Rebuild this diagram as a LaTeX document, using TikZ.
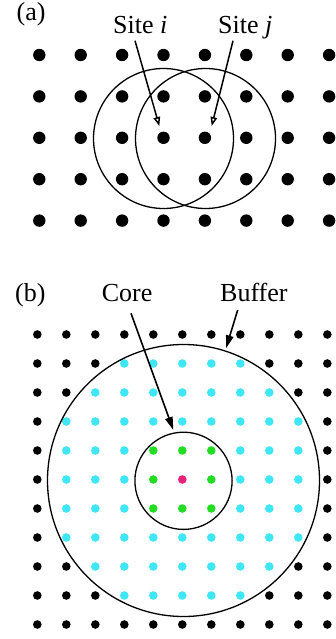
\documentclass[tikz,border=0pt]{standalone}
\usepackage{fontspec}
\setmainfont{Liberation Serif}
\usetikzlibrary{arrows.meta}
\definecolor{dotcyan}{HTML}{3FE6F5}
\definecolor{dotgreen}{HTML}{22DD22}
\definecolor{dotpink}{HTML}{E8207A}
\begin{document}
\begin{tikzpicture}[x=1pt,y=-1pt,
  lbl/.style={font=\fontsize{26}{30}\selectfont, inner sep=0pt, anchor=base west},
  ring/.style={line width=1.3pt},
  ptropen/.style={line width=1.5pt, -{Triangle[open,length=9pt,width=6.5pt]}},
  ptrfill/.style={line width=1.6pt, -{Triangle[length=13pt,width=7.5pt]}}]
\useasboundingbox (0,0) rectangle (335,639);
% ---------- panel (a)
\foreach \c in {0,...,7}{\foreach \r in {0,...,4}{
  \fill ({39.3+41.4*\c},{55+41.4*\r}) circle[radius=6.2pt];
}}
\draw[ring] (163.5,138.5) circle[radius=70pt];
\draw[ring] (205.5,138.5) circle[radius=70pt];
\node[lbl] (la) at (16.5,21) {(a)};
\node[lbl] (si) at (113,33.3) {Site \textit{i}};
\node[lbl] (sj) at (218,33.3) {Site \textit{j}};
\coordinate (si0) at (135,40.7);
\coordinate (si1) at (159.3,126);
\coordinate (sj0) at (233,40.7);
\coordinate (sj1) at (211.7,126);
\draw[ptropen] (si0) -- (si1);
\draw[ptropen] (sj0) -- (sj1);
% ---------- panel (b)
\foreach \c in {0,...,10}{\foreach \r in {0,...,10}{
  \pgfmathtruncatemacro{\dd}{(\c-5)*(\c-5)+(\r-5)*(\r-5)}
  \ifnum\dd=0 \def\dc{dotpink}\else\ifnum\dd<3 \def\dc{dotgreen}\else\ifnum\dd<21 \def\dc{dotcyan}\else\def\dc{black}\fi\fi\fi
  \fill[\dc] ({37.3+29*\c},{334.5+29*\r}) circle[radius=4.3pt];
}}
\draw[ring] (183.5,480.5) circle[radius=136pt];
\draw[ring] (183.5,480.8) circle[radius=48.6pt];
\node[lbl] (lb) at (15,301.7) {(b)};
\node[lbl] (core) at (101.7,301.7) {Core};
\node[lbl] (buf) at (220,301.7) {Buffer};
\coordinate (c0) at (131,313.3);
\coordinate (c1) at (173.3,430);
\coordinate (b0) at (237.7,310);
\coordinate (b1) at (226,348.3);
\draw[ptrfill] (c0) -- (c1);
\draw[ptrfill] (b0) -- (b1);
\end{tikzpicture}
\end{document}
